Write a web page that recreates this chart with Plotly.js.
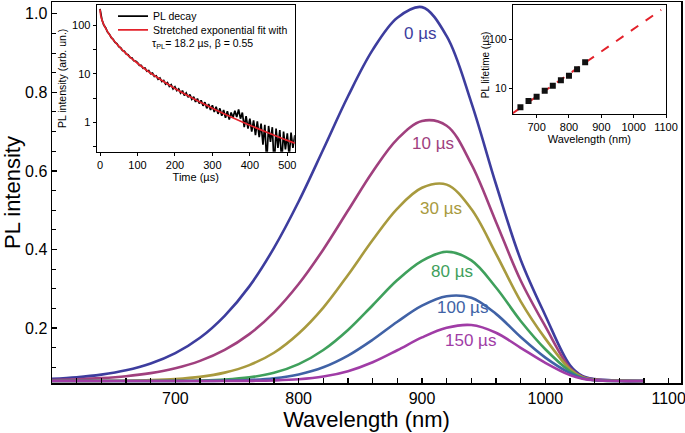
<!DOCTYPE html>
<html>
<head>
<meta charset="utf-8">
<script src="https://cdn.plot.ly/plotly-3.0.1.min.js"></script>
<style>html,body{margin:0;padding:0;background:#fff;}#chart{width:685px;height:433px;}</style>
</head>
<body>
<div id="chart"></div>
<script>
// ---- Main spectra (wavelength in nm, PL intensity) ----
const wavelengths = [600,620,640,660,680,700,720,740,760,780,800,820,840,860,880,900,920,940,960,980,1000,1020,1030,1040,1060,1080];
const spec0   = [0.0706,0.0746,0.0814,0.0923,0.1096,0.136,0.175,0.231,0.306,0.404,0.522,0.655,0.790,0.908,0.990,1.017,0.943,0.774,0.566,0.374,0.232,0.105,0.078,0.070,0.066,0.065];
const spec10  = [0.0676,0.0695,0.0725,0.0773,0.0852,0.0975,0.1163,0.1443,0.1844,0.240,0.312,0.400,0.499,0.598,0.681,0.727,0.715,0.617,0.470,0.321,0.204,0.098,0.076,0.069,0.066,0.065];
const spec30  = [0.065,0.0652,0.0654,0.0659,0.0672,0.070,0.0756,0.0864,0.1056,0.137,0.186,0.252,0.335,0.424,0.504,0.557,0.565,0.503,0.389,0.268,0.173,0.095,0.075,0.068,0.066,0.065];
const spec80  = [0.065,0.065,0.065,0.065,0.065,0.0654,0.0663,0.0687,0.0743,0.086,0.108,0.144,0.195,0.258,0.322,0.371,0.394,0.372,0.303,0.218,0.146,0.090,0.073,0.067,0.065,0.065];
const spec100 = [0.065,0.065,0.065,0.065,0.065,0.065,0.065,0.0659,0.0677,0.0722,0.0819,0.100,0.1297,0.170,0.216,0.257,0.281,0.277,0.236,0.177,0.1246,0.085,0.072,0.067,0.065,0.065];
const spec150 = [0.065,0.065,0.065,0.065,0.065,0.065,0.065,0.065,0.0654,0.0665,0.0694,0.0764,0.0901,0.1128,0.1434,0.176,0.2006,0.2076,0.188,0.1497,0.1114,0.080,0.071,0.067,0.065,0.065];
const delayLabels = ["0 µs","10 µs","30 µs","80 µs","100 µs","150 µs"];
const labelX = [898,909,915,924,933,939];
const labelY = [0.951,0.670,0.505,0.345,0.251,0.167];
const curveColors = ["#3d3d9e","#a0407e","#a89a3e","#3fa05c","#4062a6","#a03ca6"];

const xTickVals = [700,800,900,1000,1100];
const yTickVals = [0.2,0.4,0.6,0.8,1.0];
const yTickText = ["0.2","0.4","0.6","0.8","1.0"];

// ---- Left inset: PL decay ----
const decayTime = [0,5,10,15,20,25,30,35,40,45,50,55,60,65,70,75,80,85,90,95,100,105,110,115,120,125,130,135,140,145,150,155,160,165,170,175,180,185,190,195,200,205,210,215,220,225,230,235,240,245,250,255,260,265,270,275,280,285,290,295,300,305,310,315,320,325,330,335,340,345,350,355,360,365,370,375,380,385,390,395,400,405,410,415,420,425,430,435,440,445,450,455,460,465,470,475,480,485,490,495,500,505,510,515,520];
const decayData = [215,130,100,88,72,65,55,51,44,41.5,36,34.2,30,28.9,25.5,24.6,21.5,21.2,18.5,18.3,16.9,14.8,14.9,12.9,13.2,11.3,11.6,10.0,10.3,8.8,9.1,7.7,8.2,6.9,7.3,6.1,6.6,5.5,5.95,4.9,5.4,4.5,4.9,4.0,4.5,3.6,4.05,3.3,3.75,3.0,3.35,2.65,3.1,2.45,2.85,2.2,2.6,1.95,2.4,1.8,2.25,1.65,2.1,1.5,1.95,1.38,1.8,1.25,1.7,1.15,1.6,1.25,1.75,1.3,1.85,1.2,1.6,0.8,1.35,0.75,1.2,0.65,1.1,0.55,1.05,0.5,0.95,0.35,0.9,0.15,0.85,0.4,0.8,0.12,0.75,0.3,0.7,0.15,0.65,0.28,0.6,0.2,0.62,0.3,0.55];
const fitTime = [0,2,5,10,20,30,40,50,60,80,100,125,150,175,200,250,300,350,400,450,500,520];
const fitData = [210,156,128.5,102,73.3,56.3,44.9,36.8,30.6,22.0,16.4,11.7,8.65,6.52,5.0,3.07,1.97,1.30,0.88,0.61,0.43,0.378];
const decayXTicks = [0,100,200,300,400,500];
const decayYTicks = [1,10,100];

// ---- Right inset: PL lifetime vs wavelength ----
const lifeWl = [650,675,700,725,750,775,800,825,850];
const lifeData = [4.1,5.5,6.7,8.9,11.3,14.6,18.1,24.4,34.0];
const lifeFitWl = [626,850,1085];
const lifeFitData = [3.1,33.5,400];
const lifeXTicks = [700,800,900,1000,1100];
const lifeYTicks = [10,100];

const FONT = "Liberation Sans, Arial, Helvetica, sans-serif";
const specs = [spec0,spec10,spec30,spec80,spec100,spec150];

const traces = specs.map((s,i)=>({
  x: wavelengths, y: s, type:"scatter", mode:"lines",
  line:{color:curveColors[i], width:2.6, shape:"spline", smoothing:1.0},
  showlegend:false, hoverinfo:"skip", xaxis:"x", yaxis:"y"
}));

traces.push({
  x: decayTime, y: decayData, type:"scatter", mode:"lines", name:"PL decay",
  line:{color:"#000", width:1.7}, xaxis:"x2", yaxis:"y2", showlegend:true, legend:"legend"
});
traces.push({
  x: fitTime, y: fitData, type:"scatter", mode:"lines", name:"Stretched exponential fit with",
  line:{color:"#e3222b", width:1.7, shape:"spline"}, xaxis:"x2", yaxis:"y2", showlegend:true, legend:"legend2"
});
traces.push({
  x: lifeFitWl, y: lifeFitData, type:"scatter", mode:"lines",
  line:{color:"#e3222b", width:2, dash:"dash"}, xaxis:"x3", yaxis:"y3", showlegend:false
});
traces.push({
  x: lifeWl, y: lifeData, type:"scatter", mode:"markers",
  marker:{color:"#111", size:6, symbol:"square"}, xaxis:"x3", yaxis:"y3", showlegend:false
});

const annotations = delayLabels.map((t,i)=>({
  x: labelX[i], y: labelY[i], xref:"x", yref:"y", text:t, showarrow:false,
  font:{family:FONT, size:17, color:curveColors[i]}
}));
annotations.push({
  x:0.156, y:0.889, xref:"paper", yref:"paper", xanchor:"left", yanchor:"middle",
  text:"τ<sub>PL</sub>= 18.2 µs, β = 0.55", showarrow:false,
  font:{family:FONT, size:10.5, color:"#000"}
});
annotations.push({
  x:0.689, y:0.835, xref:"paper", yref:"paper", xanchor:"center", yanchor:"middle",
  text:"PL lifetime (µs)", textangle:-90, showarrow:false,
  font:{family:FONT, size:10, color:"#000"}
});

const insetAxis = {
  showline:true, linecolor:"#000", linewidth:1, mirror:true,
  ticks:"outside", ticklen:3, tickcolor:"#000", showgrid:false, zeroline:false,
  ticklabeloverflow:"allow",
  tickfont:{family:FONT, size:11, color:"#000"}
};
const legendBase = {xanchor:"left", yanchor:"middle", bgcolor:"rgba(0,0,0,0)",
  font:{family:FONT, size:10.5, color:"#000"}, itemwidth:30, borderwidth:0};

const layout = {
  width:685, height:433,
  margin:{l:52, r:4, t:2, b:50},
  paper_bgcolor:"#fff", plot_bgcolor:"#fff",
  font:{family:FONT, color:"#000"},
  showlegend:true,
  legend:Object.assign({x:0.097, y:0.963}, legendBase),
  legend2:Object.assign({x:0.097, y:0.927}, legendBase),
  xaxis:{
    domain:[0,1], range:[600,1110], anchor:"y",
    showline:true, linecolor:"#000", linewidth:1.5, mirror:true,
    ticks:"inside", ticklen:5, tickwidth:1.2, tickcolor:"#000",
    tickvals:xTickVals, showgrid:false, zeroline:false, ticklabeloverflow:"allow",
    minor:{dtick:20, ticks:"inside", ticklen:5, tickcolor:"#000", tickwidth:1.2},
    tickfont:{family:FONT, size:16, color:"#000"},
    title:{text:"Wavelength (nm)", font:{family:FONT, size:22, color:"#000"}, standoff:4}
  },
  yaxis:{
    domain:[0,1], range:[0.06,1.03], anchor:"x",
    showline:true, linecolor:"#000", linewidth:1.5, mirror:true,
    ticks:"inside", ticklen:5, tickwidth:1.2, tickcolor:"#000",
    tickvals:yTickVals, ticktext:yTickText, showgrid:false, zeroline:false,
    minor:{dtick:0.05, tick0:0, ticks:"inside", ticklen:4, tickcolor:"#000", tickwidth:1},
    tickfont:{family:FONT, size:16, color:"#000"},
    title:{text:"PL intensity", font:{family:FONT, size:22, color:"#000"}, standoff:6}
  },
  xaxis2:Object.assign({}, insetAxis, {
    domain:[0.071,0.386], range:[-9,520], anchor:"y2",
    tickvals:decayXTicks,
    title:{text:"Time (µs)", font:{family:FONT, size:11, color:"#000"}, standoff:2}
  }),
  yaxis2:Object.assign({}, insetAxis, {
    domain:[0.607,0.992], type:"log", range:[-0.6,2.41], anchor:"x2",
    tickvals:decayYTicks, ticktext:["1","10","100"],
    minor:{tickvals:[0.316,3.16,31.6], ticks:"outside", ticklen:3, tickcolor:"#000"},
    title:{text:"PL intensity (arb. un.)", font:{family:FONT, size:10.5, color:"#000"}, standoff:3}
  }),
  xaxis3:Object.assign({}, insetAxis, {
    domain:[0.7324,0.9762], range:[626,1100], anchor:"y3",
    tickvals:lifeXTicks,
    title:{text:"Wavelength (nm)", font:{family:FONT, size:11, color:"#000"}, standoff:2}
  }),
  yaxis3:Object.assign({}, insetAxis, {
    domain:[0.706,0.992], type:"log", range:[0.475,2.70], anchor:"x3",
    tickvals:lifeYTicks, ticktext:["10","100"],
    tickfont:{family:FONT, size:10.5, color:"#000"}
  }),
  annotations: annotations
};

Plotly.newPlot("chart", traces, layout, {displayModeBar:false, staticPlot:true});
</script>
</body>
</html>
